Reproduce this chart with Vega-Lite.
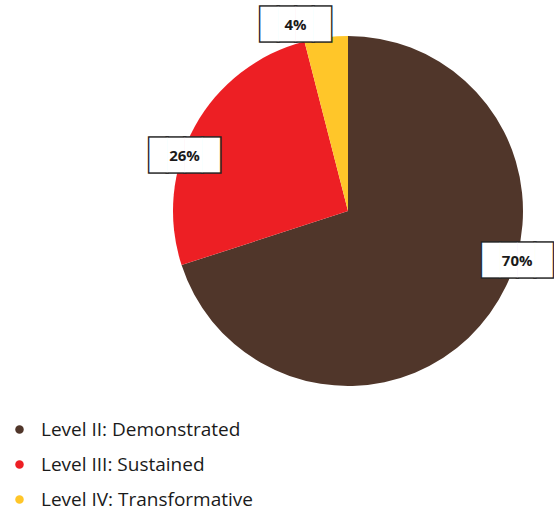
{
  "$schema": "https://vega.github.io/schema/vega-lite/v6.json",
  "width": 350,
  "height": 350,
  "autosize": {"type": "none"},
  "padding": {"left": 173, "top": 36, "right": 31, "bottom": 124},
  "background": "white",
  "config": {
    "view": {"stroke": null},
    "style": {
      "b70": {"dx": 27.6, "dy": -53.1},
      "b26": {"dx": -10.1, "dy": 29.6},
      "b4": {"dx": -30.6, "dy": -11.9}
    }
  },
  "data": {
    "values": [
      {"level": "Level II: Demonstrated", "value": 70, "label": "70%"},
      {"level": "Level III: Sustained", "value": 26, "label": "26%"},
      {"level": "Level IV: Transformative", "value": 4, "label": "4%"}
    ]
  },
  "encoding": {
    "theta": {"field": "value", "type": "quantitative", "stack": true},
    "order": {"field": "value", "type": "quantitative", "sort": "descending"}
  },
  "layer": [
    {
      "mark": {"type": "arc", "outerRadius": 175},
      "encoding": {
        "color": {
          "field": "level",
          "type": "nominal",
          "scale": {
            "domain": ["Level II: Demonstrated", "Level III: Sustained", "Level IV: Transformative"],
            "range": ["#50362A", "#ED1F24", "#FFC629"]
          },
          "legend": {
            "orient": "none",
            "legendX": -163,
            "legendY": 384,
            "title": null,
            "symbolType": "circle",
            "symbolSize": 72,
            "symbolStrokeWidth": 0,
            "labelFont": "Open Sans",
            "labelFontSize": 19,
            "labelColor": "#1a1a1a",
            "labelOffset": 12,
            "rowPadding": 15,
            "padding": 0,
            "labelLimit": 400
          }
        }
      }
    },
    {
      "mark": {"type": "text", "style": "b70", "radius": 175, "font": "DejaVu Sans Mono", "fontSize": 29, "align": "center", "baseline": "middle", "color": "#262626", "stroke": "#262626", "strokeWidth": 3},
      "encoding": {"detail": {"field": "level"}, "text": {"condition": {"test": "datum.label === '70%'", "value": "████"}, "value": ""}}
    },
    {
      "mark": {"type": "text", "style": "b70", "radius": 175, "font": "DejaVu Sans Mono", "fontSize": 29, "align": "center", "baseline": "middle", "color": "white"},
      "encoding": {"detail": {"field": "level"}, "text": {"condition": {"test": "datum.label === '70%'", "value": "████"}, "value": ""}}
    },
    {
      "mark": {"type": "text", "style": "b70", "radius": 175, "font": "Open Sans", "fontWeight": "bold", "fontSize": 15, "align": "center", "baseline": "middle", "color": "#1a1a1a"},
      "encoding": {"detail": {"field": "level"}, "text": {"condition": {"test": "datum.label === '70%'", "field": "label"}, "value": ""}}
    },
    {
      "mark": {"type": "text", "style": "b26", "radius": 175, "font": "DejaVu Sans Mono", "fontSize": 29, "align": "center", "baseline": "middle", "color": "#262626", "stroke": "#262626", "strokeWidth": 3},
      "encoding": {"detail": {"field": "level"}, "text": {"condition": {"test": "datum.label === '26%'", "value": "████"}, "value": ""}}
    },
    {
      "mark": {"type": "text", "style": "b26", "radius": 175, "font": "DejaVu Sans Mono", "fontSize": 29, "align": "center", "baseline": "middle", "color": "white"},
      "encoding": {"detail": {"field": "level"}, "text": {"condition": {"test": "datum.label === '26%'", "value": "████"}, "value": ""}}
    },
    {
      "mark": {"type": "text", "style": "b26", "radius": 175, "font": "Open Sans", "fontWeight": "bold", "fontSize": 15, "align": "center", "baseline": "middle", "color": "#1a1a1a"},
      "encoding": {"detail": {"field": "level"}, "text": {"condition": {"test": "datum.label === '26%'", "field": "label"}, "value": ""}}
    },
    {
      "mark": {"type": "text", "style": "b4", "radius": 175, "font": "DejaVu Sans Mono", "fontSize": 29, "align": "center", "baseline": "middle", "color": "#262626", "stroke": "#262626", "strokeWidth": 3},
      "encoding": {"detail": {"field": "level"}, "text": {"condition": {"test": "datum.label === '4%'", "value": "████"}, "value": ""}}
    },
    {
      "mark": {"type": "text", "style": "b4", "radius": 175, "font": "DejaVu Sans Mono", "fontSize": 29, "align": "center", "baseline": "middle", "color": "white"},
      "encoding": {"detail": {"field": "level"}, "text": {"condition": {"test": "datum.label === '4%'", "value": "████"}, "value": ""}}
    },
    {
      "mark": {"type": "text", "style": "b4", "radius": 175, "font": "Open Sans", "fontWeight": "bold", "fontSize": 15, "align": "center", "baseline": "middle", "color": "#1a1a1a"},
      "encoding": {"detail": {"field": "level"}, "text": {"condition": {"test": "datum.label === '4%'", "field": "label"}, "value": ""}}
    }
  ]
}
